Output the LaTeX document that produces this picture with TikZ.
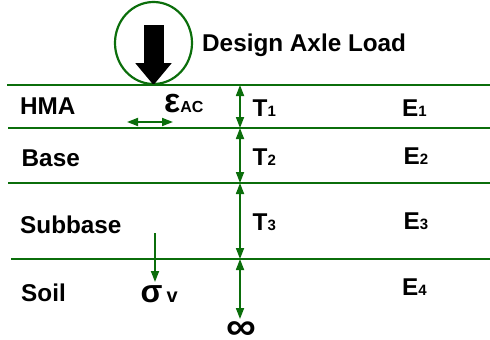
\documentclass[tikz,border=0pt]{standalone}
\usepackage{fontspec}
\setmainfont{Liberation Sans}
\usetikzlibrary{arrows.meta, shapes.geometric}
\definecolor{pavgreen}{HTML}{0B6E0B}
\tikzset{
  % limite tra due strati
  layer line/.style={line width=2.4pt, pavgreen},
  % quote e deformazioni
  dim arrow/.style={{Triangle[length=11pt,width=8pt]}-{Triangle[length=11pt,width=8pt]},
    line width=1.7pt, pavgreen},
  one arrow/.style={-{Triangle[length=11pt,width=8pt]}, line width=1.7pt, pavgreen},
  % carico sull'asse
  load arrow/.style={-{Triangle[length=22pt,width=35pt]}, line width=20pt, black},
  % etichette
  lbl/.style={font=\bfseries\fontsize{24.3}{27}\selectfont, inner sep=0pt, anchor=base west},
}
\newcommand{\subtxt}[1]{{\fontsize{15}{15}\selectfont #1}}

\begin{document}
\begin{tikzpicture}[x=1pt, y=-1pt]
  \useasboundingbox (0,0) rectangle (490,340);
  \node[ellipse, draw=pavgreen, line width=2.2pt, minimum width=77pt, minimum height=82pt,
    inner sep=0pt] (wheel) at (153.5,43) {};
  \coordinate (loadtop) at (153.5,25);
  \draw[load arrow] (loadtop) -- (wheel.south);
  \node[lbl, anchor=west] (load) at (202,45) {Design Axle Load};
  \foreach \n/\xs/\y in {1/7/85, 2/8/128, 3/8/183, 4/11/259} {
    \coordinate (l\n w) at (\xs,\y); \coordinate (l\n e) at (490,\y);
    \coordinate (d\n) at (240,\y);
    \draw[layer line] (l\n w) -- (l\n e);
  }
  \coordinate (dinf) at (240,319);
  \foreach \a/\b in {d1/d2, d2/d3, d3/d4, d4/dinf} \draw[dim arrow] (\a) -- (\b);
  \node[lbl] (hma) at (20,114.5) {HMA};
  \node[lbl] (base) at (21.5,166) {Base};
  \node[lbl] (subbase) at (20,233.3) {Subbase};
  \node[lbl] (soil) at (21,301) {Soil};
  \node[lbl] (t1) at (252.5,116.7) {T\subtxt{1}};
  \node[lbl] (t2) at (252.5,165) {T\subtxt{2}};
  \node[lbl] (t3) at (252.5,230) {T\subtxt{3}};
  \node[lbl] (e1) at (402,116) {E\subtxt{1}};
  \node[lbl] (e2) at (403.5,164) {E\subtxt{2}};
  \node[lbl] (e3) at (403.5,229) {E\subtxt{3}};
  \node[lbl] (e4) at (402,295) {E\subtxt{4}};
  % deformazione e tensione
  \node[lbl] (eps) at (164,112) {{\fontsize{34}{34}\selectfont ε}{\fontsize{16}{16}\selectfont AC}};
  \coordinate (epsl) at (127,122); \coordinate (epsr) at (173,122);
  \draw[dim arrow] (epsl) -- (epsr);
  \node[lbl] (sig) at (140.5,302) {{\fontsize{32}{32}\selectfont σ}\hspace{4pt}{\fontsize{20}{20}\selectfont v}};
  \coordinate (sigtop) at (155,233); \coordinate (sigbot) at (155,282);
  \draw[one arrow] (sigtop) -- (sigbot);
  \node[font=\bfseries\fontsize{38}{38}\selectfont, inner sep=0pt, xscale=1.1] (inf) at (241,330.5) {∞};
\end{tikzpicture}
\end{document}
